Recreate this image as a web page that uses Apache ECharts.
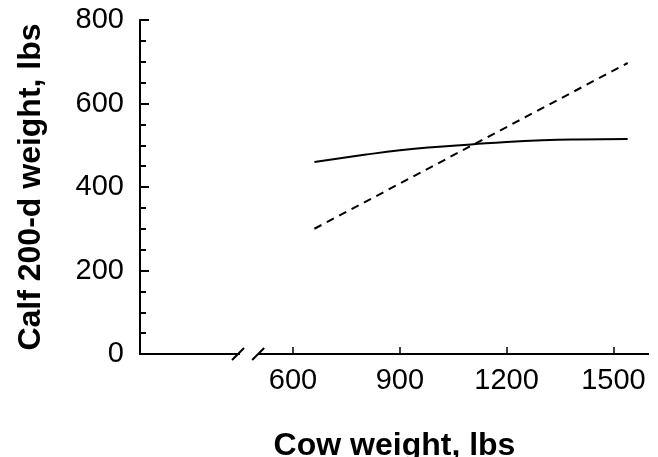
<!DOCTYPE html>
<html>
<head>
<meta charset="utf-8">
<script src="https://cdn.jsdelivr.net/npm/echarts@6/dist/echarts.min.js"></script>
<style>html,body{margin:0;padding:0;background:#fff}#c{width:658px;height:457px}</style>
</head>
<body>
<div id="c"></div>
<script>
// Data
const cowWeight = [660, 800, 900, 1000, 1100, 1200, 1300, 1400, 1540];
const calfWeightSolid = [460, 477, 488, 496, 502, 508, 512, 514, 515];
const dashedX = [660, 1540];
const calfWeightDashed = [300, 697];
const xTicks = [600, 900, 1200, 1500];
const yTicks = [0, 200, 400, 600, 800];
const xAxisName = 'Cow weight, lbs';
const yAxisName = 'Calf 200-d weight, lbs';
const xMin = 170, xMax = 1600;
const breakFrom = 451, breakTo = 502;

const font = '"Liberation Sans", Arial, sans-serif';
const chart = echarts.init(document.getElementById('c'), null, {renderer: 'canvas'});
const option = {
  backgroundColor: '#fff',
  animation: false,
  grid: {left: 140, top: 20, right: 9, bottom: 103, containLabel: false, outerBoundsMode: 'none'},
  xAxis: {
    type: 'value', min: xMin, max: xMax,
    name: xAxisName, nameLocation: 'middle', nameGap: 76,
    nameTextStyle: {fontFamily: font, fontWeight: 'bold', fontSize: 32, color: '#000'},
    axisLine: {show: false},
    axisTick: {show: true, inside: true, length: 7, customValues: xTicks, lineStyle: {color: '#000', width: 1.5}},
    axisLabel: {customValues: xTicks, margin: 12, fontFamily: font, fontSize: 29, color: '#000',
      formatter: v => String(v)},
    splitLine: {show: false}
  },
  yAxis: {
    type: 'value', min: 0, max: 800, interval: 200,
    name: yAxisName, nameLocation: 'middle', nameGap: 93, nameRotate: 90,
    nameTextStyle: {fontFamily: font, fontWeight: 'bold', fontSize: 32, color: '#000'},
    axisLine: {show: true, lineStyle: {color: '#000', width: 2}},
    axisTick: {show: true, inside: true, length: 9, lineStyle: {color: '#000', width: 2}},
    minorTick: {show: true, splitNumber: 4, length: 6, lineStyle: {color: '#000', width: 2}},
    axisLabel: {margin: 16, fontFamily: font, fontSize: 29, color: '#000',
      formatter: v => yTicks.includes(v) ? String(v) : ''},
    splitLine: {show: false}
  },
  series: [
    {
      type: 'line', smooth: true, symbol: 'none',
      data: cowWeight.map((x, i) => [x, calfWeightSolid[i]]),
      lineStyle: {color: '#000', width: 2}
    },
    {
      type: 'line', symbol: 'none',
      data: dashedX.map((x, i) => [x, calfWeightDashed[i]]),
      lineStyle: {color: '#000', width: 2, type: [8, 6]}
    }
  ]
};
chart.setOption(option);

// Broken x axis line with break marks
const p = v => chart.convertToPixel({gridIndex: 0}, [v, 0]);
const a = p(xMin), b = p(breakFrom), c = p(breakTo), d = p(xMax);
const y0 = a[1];
const ls = {stroke: '#000', lineWidth: 2};
chart.setOption({
  graphic: [
    {type: 'line', shape: {x1: a[0] - 1, y1: y0, x2: b[0], y2: y0}, style: ls},
    {type: 'line', shape: {x1: c[0], y1: y0, x2: d[0], y2: y0}, style: ls},
    {type: 'line', shape: {x1: b[0] - 8, y1: y0 + 6, x2: b[0] + 4, y2: y0 - 6}, style: ls},
    {type: 'line', shape: {x1: c[0] - 6, y1: y0 + 6, x2: c[0] + 6, y2: y0 - 6}, style: ls}
  ]
});
</script>
</body>
</html>
